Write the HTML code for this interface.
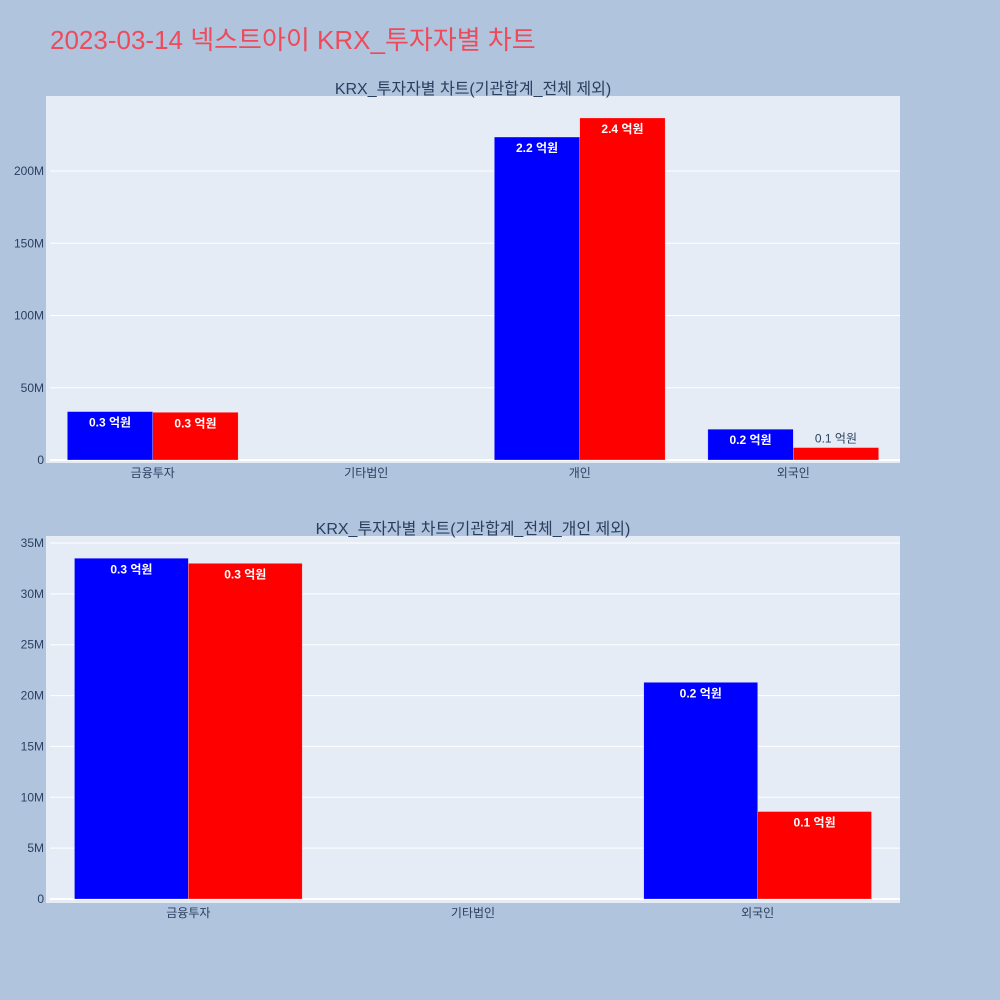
<!DOCTYPE html>
<html><head><meta charset="utf-8">
<style>
body{margin:0;background:#b0c4de;}
svg{display:block;font-family:"Liberation Sans","Noto Sans CJK KR",sans-serif;}
</style></head>
<body>
<svg id="c" width="1000" height="1000">
<rect width="1000" height="1000" fill="#b0c4de"/>
<text x="50" y="49" font-size="26" fill="#ef4a5a">2023-03-14 넥스트아이 KRX_투자자별 차트</text>
</svg>
<script>
const cats1 = ["금융투자","기타법인","개인","외국인"];
const buy1 = [33.5, 0, 223.5, 21.3];
const sell1 = [33.0, 0, 236.7, 8.6];
const lab1b = ["0.3 억원","","2.2 억원","0.2 억원"];
const lab1s = ["0.3 억원","","2.4 억원","0.1 억원"];
const ticks1 = [0,50,100,150,200];
const cats2 = ["금융투자","기타법인","외국인"];
const buy2 = [33.5, 0, 21.3];
const sell2 = [33.0, 0, 8.6];
const lab2b = ["0.3 억원","","0.2 억원"];
const lab2s = ["0.3 억원","","0.1 억원"];
const ticks2 = [0,5,10,15,20,25,30,35];

const NS="http://www.w3.org/2000/svg";
const svg=document.getElementById('c');
function mk(tag,attrs,parent){const e=document.createElementNS(NS,tag);for(const k in attrs)e.setAttribute(k,attrs[k]);(parent||svg).appendChild(e);return e;}

function chart(p){
  const g=mk('g',{});
  
  
  const bg=mk('rect',{x:p.x0,y:p.top,width:p.x1-p.x0,height:p.bottom-p.top,fill:'#e5ecf6'},g);
  
  
  const y=v=>p.zero-v*p.scale;
  const cw=(p.x1-p.x0)/p.cats.length;
  const xc=i=>p.x0+cw*(i+0.5);
  const bw=cw*0.4;
  p.ticks.forEach(t=>{
    const yy=y(t);
    const l=mk('line',{x1:p.x0+4,x2:p.x1,y1:yy,y2:yy,stroke:'#fff','stroke-width':t===0?2:1},g);
    
    
    const tx=mk('text',{x:p.x0-2,y:yy+4,'text-anchor':'end','font-size':12,fill:'#2a3f5f'},g);
    tx.textContent=t===0?'0':t+'M';
    
    
  });
  p.cats.forEach((c,i)=>{
    const tx=mk('text',{x:xc(i),y:p.bottom+14,'text-anchor':'middle','font-size':12,fill:'#2a3f5f'},g);
    tx.textContent=c;
    
    
    [[p.buy,'#0000ff',p.lb,-bw],[p.sell,'#ff0000',p.ls,0]].forEach(([arr,col,lab,off])=>{
      const v=arr[i]; if(!v) return;
      const r=mk('rect',{x:xc(i)+off,y:y(v),width:bw,height:p.zero-y(v),fill:col,stroke:'rgba(255,255,255,0.5)','stroke-width':0.5},g);
      
      
      const h=p.zero-y(v);
      const inside=h>20;
      const t=mk('text',{x:xc(i)+off+bw/2,y:inside?y(v)+15:y(v)-5,'text-anchor':'middle','font-size':12,'font-weight':inside?'bold':'normal',fill:inside?'#fff':'#2a3f5f'},g);
      t.textContent=lab[i];
      
      
    });
  });
  const ti=mk('text',{x:(p.x0+p.x1)/2,y:p.top-2,'text-anchor':'middle','font-size':16,fill:'#2a3f5f'},g);
  ti.textContent=p.title;
  
  
}
chart({name:'chart-all',x0:46,x1:900,top:96,bottom:463,zero:460,scale:289/200,cats:cats1,buy:buy1,sell:sell1,lb:lab1b,ls:lab1s,ticks:ticks1,title:'KRX_투자자별 차트(기관합계_전체 제외)'});
chart({name:'chart-excl-individual',x0:46,x1:900,top:536,bottom:903,zero:899,scale:356/35,cats:cats2,buy:buy2,sell:sell2,lb:lab2b,ls:lab2s,ticks:ticks2,title:'KRX_투자자별 차트(기관합계_전체_개인 제외)'});
</script>
</body></html>
